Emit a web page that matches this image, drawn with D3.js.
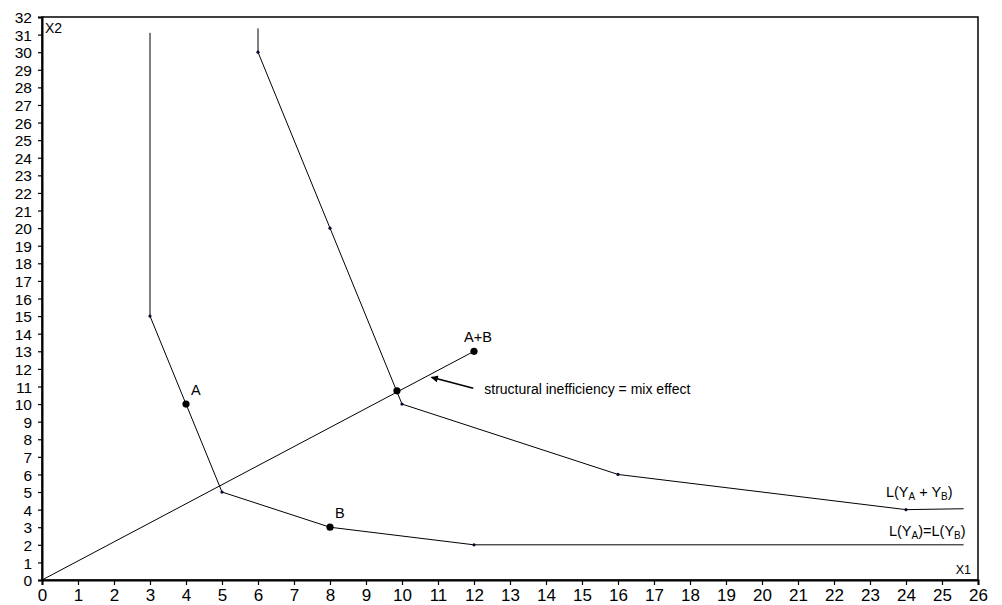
<!DOCTYPE html>
<html>
<head>
<meta charset="utf-8">
<script src="https://cdn.jsdelivr.net/npm/d3@7"></script>
<style>
  body { margin: 0; background: #fff; }
  text { font-family: "Liberation Sans", Arial, Helvetica, sans-serif; fill: #000; }
</style>
</head>
<body>
<div id="chart"></div>
<script>
// ----- data -----
const xTicks = d3.range(0, 27);
const yTicks = d3.range(0, 33);

// isoquant L(YA)=L(YB)
const isoSingle = [[3, 31.1], [3, 15], [4, 10], [5, 5], [8, 3], [12, 2], [25.6, 2]];
const isoSingleKinks = [[3, 15], [5, 5], [12, 2]];

// isoquant L(YA + YB)
const isoSum = [[6, 31.35], [6, 30], [8, 20], [10, 10], [16, 6], [24, 4], [25.6, 4.05]];
const isoSumKinks = [[6, 30], [8, 20], [10, 10], [16, 6], [24, 4]];

// ray from the origin through A+B
const ray = [[0, 0], [12, 13]];

// labelled points
const bigPoints = [
  { name: "A", x: 4, y: 10 },
  { name: "B", x: 8, y: 3 },
  { name: "A+B", x: 12, y: 13 },
  { name: "", x: 9.86, y: 10.75 }
];

// arrow (tail, tip) and its label
const arrow = [[11.98, 10.9], [10.82, 11.52]];
const arrowText = "structural inefficiency = mix effect";

// ----- layout -----
const width = 1002, height = 605;
const margin = { top: 17, right: 24, bottom: 25, left: 42 };

const svg = d3.select("#chart").append("svg")
    .attr("width", width)
    .attr("height", height);

const x = d3.scaleLinear().domain([0, 26]).range([margin.left, width - margin.right]);
const y = d3.scaleLinear().domain([0, 32]).range([height - margin.bottom, margin.top]);

svg.append("defs").append("marker")
    .attr("id", "head")
    .attr("viewBox", "0 0 10 10")
    .attr("refX", 9)
    .attr("refY", 5)
    .attr("markerWidth", 9)
    .attr("markerHeight", 7)
    .attr("markerUnits", "userSpaceOnUse")
    .attr("orient", "auto")
    .append("path")
    .attr("d", "M0,0 L10,5 L0,10 z")
    .attr("fill", "#000");

// frame
svg.append("rect")
    .attr("x", x(0))
    .attr("y", y(32))
    .attr("width", x(26) - x(0))
    .attr("height", y(0) - y(32))
    .attr("fill", "none")
    .attr("stroke", "#000")
    .attr("stroke-width", 1.5);

// axes
const xAxis = svg.append("g")
    .attr("transform", `translate(0,${y(0)})`)
    .call(d3.axisBottom(x).tickValues(xTicks).tickFormat(d3.format("d")).tickSizeOuter(0).tickSize(5).tickPadding(4));

const yAxis = svg.append("g")
    .attr("transform", `translate(${x(0)},0)`)
    .call(d3.axisLeft(y).tickValues(yTicks).tickFormat(d3.format("d")).tickSizeOuter(0).tickSize(4).tickPadding(6));

[xAxis, yAxis].forEach(g => {
    g.select(".domain").attr("stroke-width", 2);
    g.selectAll(".tick line").attr("stroke-width", 1.2);
    g.selectAll(".tick text")
        .style("font-family", "'Liberation Sans', Arial, sans-serif")
        .attr("fill", "#000");
});
xAxis.selectAll(".tick text").style("font-size", "17px");
yAxis.selectAll(".tick text").style("font-size", "15.5px").attr("dy", "0.36em");

// axis names
svg.append("text")
    .attr("x", x(0) + 3)
    .attr("y", y(32) + 16)
    .style("font-size", "14px")
    .text("X2");

svg.append("text")
    .attr("x", x(26) - 7)
    .attr("y", y(0) - 6)
    .attr("text-anchor", "end")
    .style("font-size", "12.5px")
    .text("X1");

// lines
const line = d3.line().x(d => x(d[0])).y(d => y(d[1]));

[isoSingle, isoSum, ray].forEach(pts => {
    svg.append("path")
        .datum(pts)
        .attr("d", line)
        .attr("fill", "none")
        .attr("stroke", "#000")
        .attr("stroke-width", 1);
});

// small kink dots
svg.selectAll(".kink")
    .data(isoSingleKinks.concat(isoSumKinks))
    .enter().append("circle")
    .attr("class", "kink")
    .attr("cx", d => x(d[0]))
    .attr("cy", d => y(d[1]))
    .attr("r", 1.6)
    .attr("fill", "#0a0a30");

// big points
svg.selectAll(".pt")
    .data(bigPoints)
    .enter().append("circle")
    .attr("class", "pt")
    .attr("cx", d => x(d.x))
    .attr("cy", d => y(d.y))
    .attr("r", 3.6)
    .attr("fill", "#000");

svg.selectAll(".pt-label")
    .data(bigPoints.filter(d => d.name))
    .enter().append("text")
    .attr("class", "pt-label")
    .attr("x", d => x(d.x) + (d.name === "A+B" ? 4 : 5))
    .attr("y", d => y(d.y) - 9)
    .attr("text-anchor", d => d.name === "A+B" ? "middle" : "start")
    .style("font-size", "14.5px")
    .text(d => d.name);

// arrow
svg.append("line")
    .attr("x1", x(arrow[0][0]))
    .attr("y1", y(arrow[0][1]))
    .attr("x2", x(arrow[1][0]))
    .attr("y2", y(arrow[1][1]))
    .attr("stroke", "#000")
    .attr("stroke-width", 1.5)
    .attr("marker-end", "url(#head)");

svg.append("text")
    .attr("x", x(arrow[0][0]) + 11)
    .attr("y", y(arrow[0][1]) + 6)
    .style("font-size", "14px")
    .text(arrowText);

// isoquant labels with subscripts
function subLabel(px, py, parts) {
    const t = svg.append("text")
        .attr("x", px)
        .attr("y", py)
        .attr("text-anchor", "end")
        .style("font-size", "14.5px");
    parts.forEach(p => {
        const s = t.append("tspan").text(p[0]);
        if (p[1]) s.style("font-size", "10px").attr("dy", 3);
        else if (p[2]) s.attr("dy", -3);
    });
}

subLabel(x(25.6) - 11, y(4) - 13, [["L(Y"], ["A", true], [" + Y", false, true], ["B", true], [")", false, true]]);
subLabel(x(25.6) + 2, y(2) - 9, [["L(Y"], ["A", true], [")=L(Y", false, true], ["B", true], [")", false, true]]);
</script>
</body>
</html>
